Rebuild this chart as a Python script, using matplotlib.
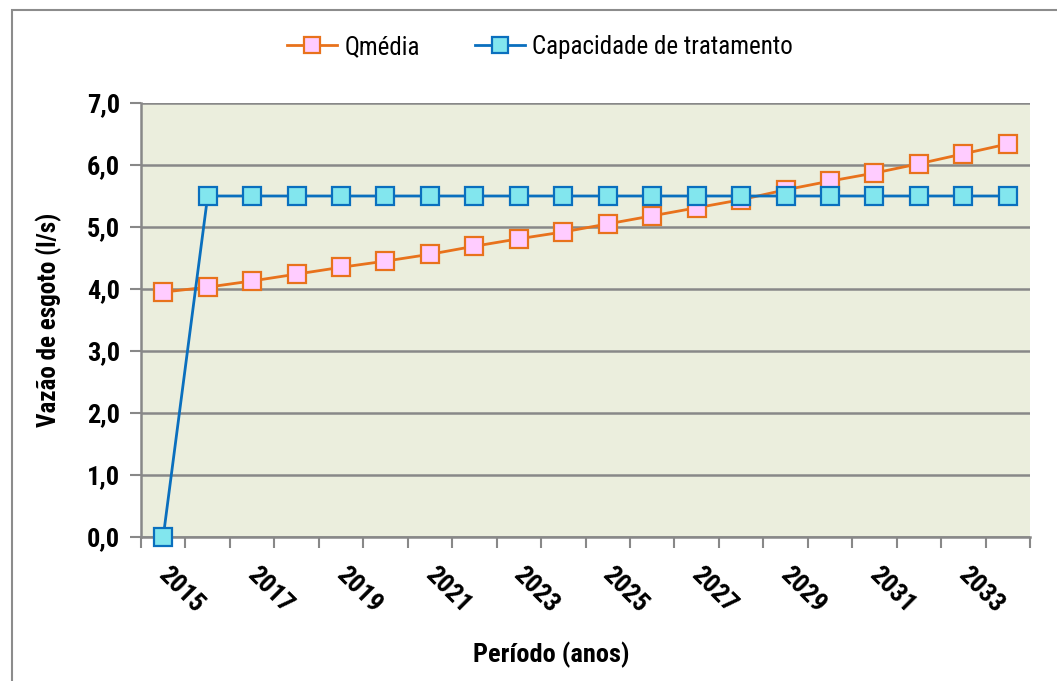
import matplotlib.pyplot as plt
from matplotlib import font_manager
from matplotlib.ticker import FuncFormatter
from matplotlib.patches import Rectangle

nomes = {f.name for f in font_manager.fontManager.ttflist}
candidatas = ['Roboto Condensed', 'DejaVu Sans Condensed', 'Liberation Sans Narrow',
              'Open Sans Condensed', 'Liberation Sans']
fonte = next((c for c in candidatas if c in nomes), 'DejaVu Sans')
plt.rcParams['font.family'] = [fonte, 'DejaVu Sans']

anos = list(range(2015, 2035))
q_media = [3.95, 4.03, 4.13, 4.24, 4.35, 4.45, 4.56, 4.69, 4.81, 4.92,
           5.05, 5.18, 5.31, 5.44, 5.60, 5.74, 5.87, 6.02, 6.18, 6.34]
capacidade = [0.0] + [5.5] * 19
rotulos = [str(a) if (a - 2015) % 2 == 0 else '' for a in anos]

fig = plt.figure(figsize=(10.57, 6.81), dpi=100)
fig.patches.append(Rectangle((12 / 1057, -0.1), 1.2, 1 - 10 / 681 + 0.1,
                             transform=fig.transFigure, fill=False,
                             edgecolor='#8c8c8c', linewidth=1.5))
ax = fig.add_axes([141 / 1057, 1 - 537 / 681, (1030 - 141) / 1057, (537 - 103) / 681])
ax.set_facecolor('#ebeedd')

x = list(range(len(anos)))
ax.plot(x, q_media, color='#e8721c', linewidth=2, marker='s', markersize=13.5,
        markerfacecolor='#ffccff', markeredgecolor='#e8721c', markeredgewidth=1.6,
        label='Qmédia', clip_on=False, zorder=3)
ax.plot(x, capacidade, color='#0a6fbe', linewidth=2, marker='s', markersize=13.5,
        markerfacecolor='#82e6ee', markeredgecolor='#0a6fbe', markeredgewidth=1.6,
        label='Capacidade de tratamento', clip_on=False, zorder=4)

ax.set_xlim(-0.5, len(anos) - 0.5)
ax.set_ylim(0, 7)
ax.set_yticks(range(0, 8))
ax.yaxis.set_major_formatter(FuncFormatter(lambda v, p: f'{v:.1f}'.replace('.', ',')))
ax.grid(axis='y', color='#888888', linewidth=1.8)
ax.set_axisbelow(True)

ax.set_xticks([i - 0.5 for i in range(len(anos) + 1)])
ax.set_xticklabels([])
ax.tick_params(axis='x', length=8, width=1.5, color='#888888')
ax.tick_params(axis='y', length=8, width=1.5, color='#888888', labelsize=19, pad=7)
for lbl in ax.get_yticklabels():
    lbl.set_fontweight('bold')

for i, r in enumerate(rotulos):
    if r:
        ax.text(i - 0.22, -0.42, r, rotation=-45, ha='left', va='top',
                fontsize=19, fontweight='bold', clip_on=False)

for s in ['top', 'right']:
    ax.spines[s].set_visible(False)
for s in ['left', 'bottom']:
    ax.spines[s].set_color('#888888')
    ax.spines[s].set_linewidth(1.8)

ax.set_ylabel('Vazão de esgoto (l/s)', fontsize=18, fontweight='bold', labelpad=18)
fig.text(551 / 1057, 1 - 655 / 681, 'Período (anos)', fontsize=19, fontweight='bold',
         ha='center', va='center')

fig.legend(loc='center', bbox_to_anchor=(540 / 1057, 1 - 47 / 681), ncol=2,
           frameon=False, fontsize=18, handlelength=2.0, columnspacing=2.2,
           handletextpad=0.3, markerscale=0.9)

fig.savefig('out.png', dpi=100)
